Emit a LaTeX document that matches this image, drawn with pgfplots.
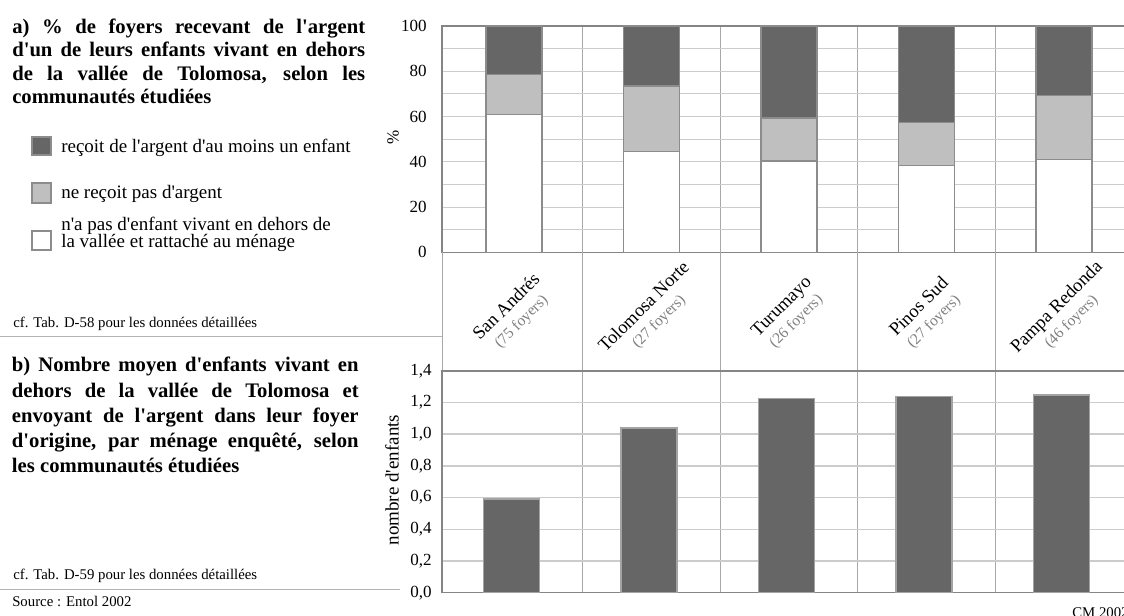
\documentclass[border=0pt]{standalone}
\usepackage{fontspec}
\setmainfont{Liberation Serif}[Ligatures=TeXOff]
\usepackage{pgfplots}
\pgfplotsset{compat=1.18}
\usepackage{pgfplotstable}
\definecolor{darkbar}{HTML}{666666}
\definecolor{lightbar}{HTML}{BFBFBF}
\definecolor{bordergray}{HTML}{8C8C8C}
\definecolor{hgrid}{HTML}{CCCCCC}
\definecolor{vgrid}{HTML}{A8A8A8}
\definecolor{spine}{HTML}{858585}
\definecolor{foyers}{HTML}{7F7F7F}
\definecolor{sepline}{HTML}{B4B4B4}
\newcommand\tfont{\fontsize{15.5}{18}\bfseries\selectfont}
\newcommand\lfont{\fontsize{14.25}{16}\selectfont}
\newcommand\sfont{\fontsize{11.1}{13}\selectfont}
\newcommand\tickfont{\fontsize{12.75}{15}\selectfont}
\newcommand\catfont{\fontsize{13.9}{15}\selectfont}
\newcommand\foyfont{\fontsize{11.6}{14}\selectfont\color{foyers}}

\pgfplotstableread{
x white light dark
0 61.0 17.5 21.5
1 44.6 28.9 26.5
2 40.3 19.0 40.7
3 38.4 18.9 42.7
4 41.1 28.1 30.8
}\tabA

\pgfplotstableread{
x val
0 0.591
1 1.039
2 1.224
3 1.237
4 1.247
}\tabB

\begin{document}
\begin{tikzpicture}
\useasboundingbox (0,0) rectangle (843pt,-461.25pt);

% ---- left panel text ----
\node[anchor=base west, inner sep=0pt] at (9pt,-25pt) {\tfont\makebox[264.75pt][s]{a) \% de foyers recevant de l'argent}};
\node[anchor=base west, inner sep=0pt] at (9pt,-42.5pt) {\tfont\makebox[264.75pt][s]{d'un de leurs enfants vivant en dehors}};
\node[anchor=base west, inner sep=0pt] at (9pt,-60pt) {\tfont\makebox[264.75pt][s]{de la vallée de Tolomosa, selon les}};
\node[anchor=base west, inner sep=0pt] at (9pt,-77.5pt) {\tfont communautés étudiées};

\draw[bordergray, line width=0.8pt, fill=darkbar] (24pt,-102.75pt) rectangle (38.25pt,-116.25pt);
\draw[bordergray, line width=0.8pt, fill=lightbar] (24pt,-137.25pt) rectangle (38.25pt,-152.25pt);
\draw[bordergray, line width=0.8pt, fill=white] (24pt,-173.25pt) rectangle (38.25pt,-187.5pt);
\node[anchor=base west, inner sep=0pt] at (45.75pt,-114pt) {\lfont reçoit de l'argent d'au moins un enfant};
\node[anchor=base west, inner sep=0pt] at (45.75pt,-148.5pt) {\lfont ne reçoit pas d'argent};
\node[anchor=base west, inner sep=0pt] at (45.75pt,-172.9pt) {\lfont n'a pas d'enfant vivant en dehors de};
\node[anchor=base west, inner sep=0pt] at (45.75pt,-185.6pt) {\lfont la vallée et rattaché au ménage};

\node[anchor=base west, inner sep=0pt] at (9.75pt,-245.25pt) {\sfont cf. Tab. D-58 pour les données détaillées};
\draw[sepline, line width=0.75pt] (0pt,-252.5pt) -- (331.5pt,-252.5pt);

\node[anchor=base west, inner sep=0pt] at (8.8pt,-278.8pt) {\tfont\makebox[260pt][s]{b) Nombre moyen d'enfants vivant en}};
\node[anchor=base west, inner sep=0pt] at (8.8pt,-298pt) {\tfont\makebox[260pt][s]{dehors de la vallée de Tolomosa et}};
\node[anchor=base west, inner sep=0pt] at (8.8pt,-317pt) {\tfont\makebox[260pt][s]{envoyant de l'argent dans leur foyer}};
\node[anchor=base west, inner sep=0pt] at (8.8pt,-335.8pt) {\tfont\makebox[260pt][s]{d'origine, par ménage enquêté, selon}};
\node[anchor=base west, inner sep=0pt] at (8.8pt,-354.5pt) {\tfont les communautés étudiées};

\node[anchor=base west, inner sep=0pt] at (9.75pt,-434.5pt) {\sfont cf. Tab. D-59 pour les données détaillées};
\draw[sepline, line width=0.75pt] (0pt,-442pt) -- (300pt,-442pt);
\node[anchor=base west, inner sep=0pt] at (9pt,-455pt) {\sfont Source : Entol 2002};
\node[anchor=base west, inner sep=0pt] at (804pt,-462.75pt) {\sfont CM 2002};

% y labels
\node[rotate=90, inner sep=0pt] at (294.75pt,-102.75pt) {\tickfont \%};
\node[rotate=90, inner sep=0pt] at (294pt,-360pt) {\lfont nombre d'enfants};

% ---- top chart ----
\begin{axis}[
  at={(331.5pt,-189.2pt)}, anchor=south west,
  scale only axis, width=519.75pt, height=169.7pt,
  xmin=-0.5236, xmax=4.516, ymin=0, ymax=100,
  ybar stacked, bar width=42pt,
  xtick={0,1,2,3,4},
  xticklabels={
    {San Andrés\\{\foyfont (75 foyers)}},
    {Tolomosa Norte\\{\foyfont (27 foyers)}},
    {Turumayo\\{\foyfont (26 foyers)}},
    {Pinos Sud\\{\foyfont (27 foyers)}},
    {Pampa Redonda\\{\foyfont (46 foyers)}}},
  minor xtick={0.5,1.5,2.5,3.5,4.5},
  ytick={0,20,40,60,80,100},
  minor ytick={10,30,50,70,90},
  xminorgrids, ymajorgrids, yminorgrids,
  minor x grid style={vgrid, line width=0.6pt},
  major y grid style={hgrid, line width=0.75pt},
  minor y grid style={hgrid, line width=0.75pt},
  major tick length=0pt, minor tick length=0pt,
  axis line style={spine, line width=1pt},
  yticklabel style={font=\tickfont, anchor=east, inner sep=0pt, xshift=-11.25pt},
  xticklabel style={font=\catfont, align=center, rotate=45, anchor=center, inner sep=0pt},
  xticklabel shift=46.5pt,
  /pgf/number format/assume math mode=true,
  clip=false,
]
\addplot[fill=white, draw=bordergray, line width=1pt] table[x=x,y=white]{\tabA};
\addplot[fill=lightbar, draw=bordergray, line width=1pt] table[x=x,y=light]{\tabA};
\addplot[fill=darkbar, draw=bordergray, line width=1pt] table[x=x,y=dark]{\tabA};
\pgfplotsinvokeforeach{-0.5236,0.5,1.5,2.5,3.5}{
  \draw[vgrid, line width=0.6pt] (axis cs:#1,0) -- (axis cs:#1,-52.6);
}
\end{axis}

% ---- bottom chart ----
\begin{axis}[
  at={(331.5pt,-444.5pt)}, anchor=south west,
  scale only axis, width=519.75pt, height=166.4pt,
  xmin=-0.5236, xmax=4.516, ymin=0, ymax=1.4,
  ybar, bar width=42pt, bar shift=-1.9pt,
  xtick={0,1,2,3,4}, xticklabels={},
  minor xtick={0.5,1.5,2.5,3.5,4.5},
  ytick={0,0.2,0.4,0.6,0.8,1.0,1.2,1.4},
  xminorgrids, ymajorgrids,
  minor x grid style={vgrid, line width=0.6pt},
  major y grid style={hgrid, line width=1.1pt},
  major tick length=0pt, minor tick length=0pt,
  axis line style={spine, line width=1.2pt},
  yticklabel style={font=\tickfont, anchor=east, inner sep=0pt, xshift=-7.5pt,
    /pgf/number format/fixed, /pgf/number format/fixed zerofill,
    /pgf/number format/precision=1, /pgf/number format/use comma},
  /pgf/number format/assume math mode=true,
]
\addplot[fill=darkbar, draw=bordergray!80, line width=1pt] table[x=x,y=val]{\tabB};
\end{axis}
\end{tikzpicture}
\end{document}
